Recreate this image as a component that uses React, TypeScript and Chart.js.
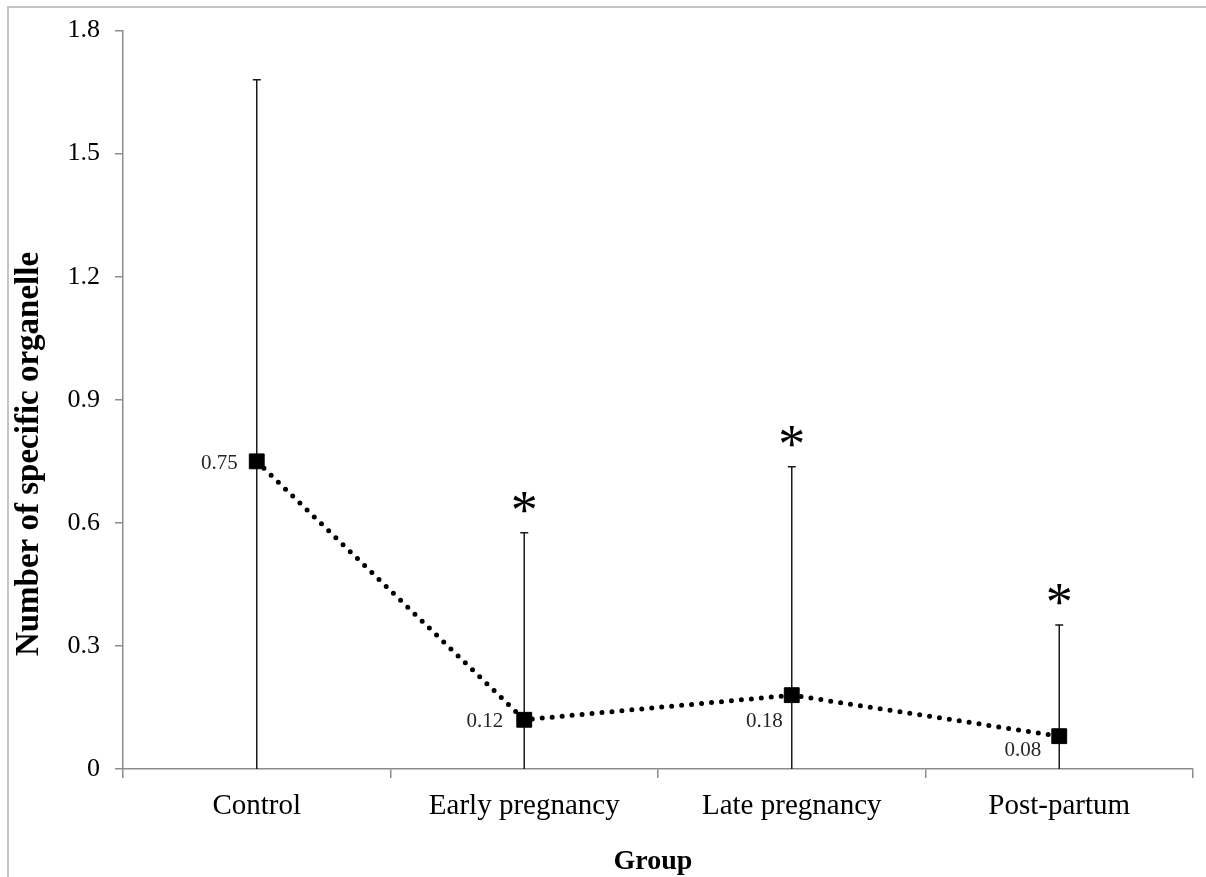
import React, { useEffect, useRef } from "react";
import { Chart, registerables } from "chart.js";

Chart.register(...registerables);

const categories = ["Control", "Early pregnancy", "Late pregnancy", "Post-partum"];
const meanValues = [0.75, 0.12, 0.18, 0.08];
const errorValues = [0.93, 0.456, 0.557, 0.271];
const significance = ["", "*", "*", "*"];
const yTickLabels = ["0", "0.3", "0.6", "0.9", "1.2", "1.5", "1.8"];
const yTitle = "Number of specific organelle";
const xTitle = "Group";

const SERIF = "'Liberation Serif', 'Times New Roman', serif";

const frameAndTitles = {
  id: "frameAndTitles",
  beforeDraw(chart: any) {
    const ctx = chart.ctx;
    ctx.save();
    ctx.fillStyle = "#ffffff";
    ctx.fillRect(0, 0, chart.width, chart.height);
    ctx.strokeStyle = "#c4c4c4";
    ctx.lineWidth = 2;
    ctx.beginPath();
    ctx.moveTo(8, chart.height);
    ctx.lineTo(8, 7);
    ctx.lineTo(chart.width, 7);
    ctx.stroke();
    ctx.restore();
  },
  afterDraw(chart: any) {
    const ctx = chart.ctx;
    ctx.save();
    ctx.fillStyle = "#000000";
    ctx.textAlign = "center";
    ctx.textBaseline = "middle";
    ctx.font = `bold 33px ${SERIF}`;
    ctx.translate(29, 454);
    ctx.rotate(-Math.PI / 2);
    ctx.fillText(yTitle, 0, 0);
    ctx.restore();

    ctx.save();
    ctx.fillStyle = "#000000";
    ctx.textAlign = "center";
    ctx.textBaseline = "middle";
    ctx.font = `bold 28px ${SERIF}`;
    ctx.fillText(xTitle, 653, 862);
    ctx.restore();
  },
};

const errorBars = {
  id: "errorBars",
  beforeDatasetsDraw(chart: any) {
    const ctx = chart.ctx;
    const x = chart.scales.x;
    const y = chart.scales.y;
    const area = chart.chartArea;
    ctx.save();
    ctx.strokeStyle = "#1a1a1a";
    ctx.lineWidth = 1.5;
    meanValues.forEach((v, i) => {
      const px = x.getPixelForValue(i);
      const hi = v + errorValues[i];
      const lo = Math.max(0, v - errorValues[i]);
      const pyHi = y.getPixelForValue(hi);
      const pyLo = Math.min(y.getPixelForValue(lo), area.bottom);
      ctx.beginPath();
      ctx.moveTo(px, pyLo);
      ctx.lineTo(px, pyHi);
      ctx.moveTo(px - 4, pyHi);
      ctx.lineTo(px + 4, pyHi);
      if (v - errorValues[i] >= 0) {
        ctx.moveTo(px - 4, pyLo);
        ctx.lineTo(px + 4, pyLo);
      }
      ctx.stroke();
    });
    ctx.restore();
  },
  afterDatasetsDraw(chart: any) {
    const ctx = chart.ctx;
    const x = chart.scales.x;
    const y = chart.scales.y;
    ctx.save();
    ctx.fillStyle = "#000000";
    ctx.textAlign = "center";
    ctx.textBaseline = "alphabetic";
    ctx.font = `54px ${SERIF}`;
    significance.forEach((s, i) => {
      if (!s) return;
      const px = x.getPixelForValue(i);
      const pyHi = y.getPixelForValue(meanValues[i] + errorValues[i]);
      ctx.fillText(s, px, pyHi - 5);
    });
    const offsets = [
      [-19, 2],
      [-21, 2],
      [-9, 26],
      [-18, 14],
    ];
    ctx.fillStyle = "#262626";
    ctx.textAlign = "right";
    ctx.textBaseline = "middle";
    ctx.font = `21px ${SERIF}`;
    meanValues.forEach((v, i) => {
      const px = x.getPixelForValue(i);
      const py = y.getPixelForValue(v);
      ctx.fillText(v.toFixed(2), px + offsets[i][0], py + offsets[i][1]);
    });
    ctx.restore();
  },
};

export default function App() {
  const ref = useRef<HTMLCanvasElement | null>(null);

  useEffect(() => {
    if (!ref.current) return;
    const chart = new Chart(ref.current, {
      type: "line",
      data: {
        labels: categories,
        datasets: [
          {
            data: meanValues,
            borderColor: "#000000",
            borderWidth: 5,
            borderDash: [0, 10],
            borderCapStyle: "round",
            fill: false,
            tension: 0,
            pointStyle: "rect",
            pointRadius: 10.5,
            pointHoverRadius: 10.5,
            pointBackgroundColor: "#000000",
            pointBorderColor: "#000000",
            pointBorderWidth: 1,
          },
        ],
      },
      options: {
        responsive: false,
        animation: false,
        devicePixelRatio: 1,
        layout: { padding: { left: 0, top: 30, right: 13, bottom: 0 } },
        plugins: {
          legend: { display: false },
          tooltip: { enabled: false },
          title: { display: false },
        },
        scales: {
          x: {
            type: "category",
            offset: true,
            grid: {
              offset: true,
              drawOnChartArea: false,
              drawTicks: true,
              tickLength: 9,
              color: "#8c8c8c",
              lineWidth: 1.5,
            },
            border: { display: true, color: "#8c8c8c", width: 1.5 },
            ticks: {
              color: "#000000",
              font: { family: SERIF, size: 29 },
              padding: 11,
              maxRotation: 0,
              autoSkip: false,
            },
            afterFit(scale: any) {
              scale.height = 108;
            },
          },
          y: {
            min: 0,
            max: 1.8,
            ticks: {
              stepSize: 0.3,
              color: "#000000",
              font: { family: SERIF, size: 26 },
              padding: 15,
              callback: (_v: any, idx: number) => yTickLabels[idx],
            },
            grid: {
              drawOnChartArea: false,
              drawTicks: true,
              tickLength: 8,
              color: "#8c8c8c",
              lineWidth: 1.5,
            },
            border: { display: true, color: "#8c8c8c", width: 1.5 },
            afterFit(scale: any) {
              scale.width = 123;
            },
          },
        },
      },
      plugins: [frameAndTitles, errorBars],
    });
    return () => chart.destroy();
  }, []);

  return (
    <div style={{ position: "absolute", left: 0, top: 0, width: 1206, height: 877 }}>
      <canvas ref={ref} width={1206} height={877} style={{ display: "block" }} />
    </div>
  );
}
